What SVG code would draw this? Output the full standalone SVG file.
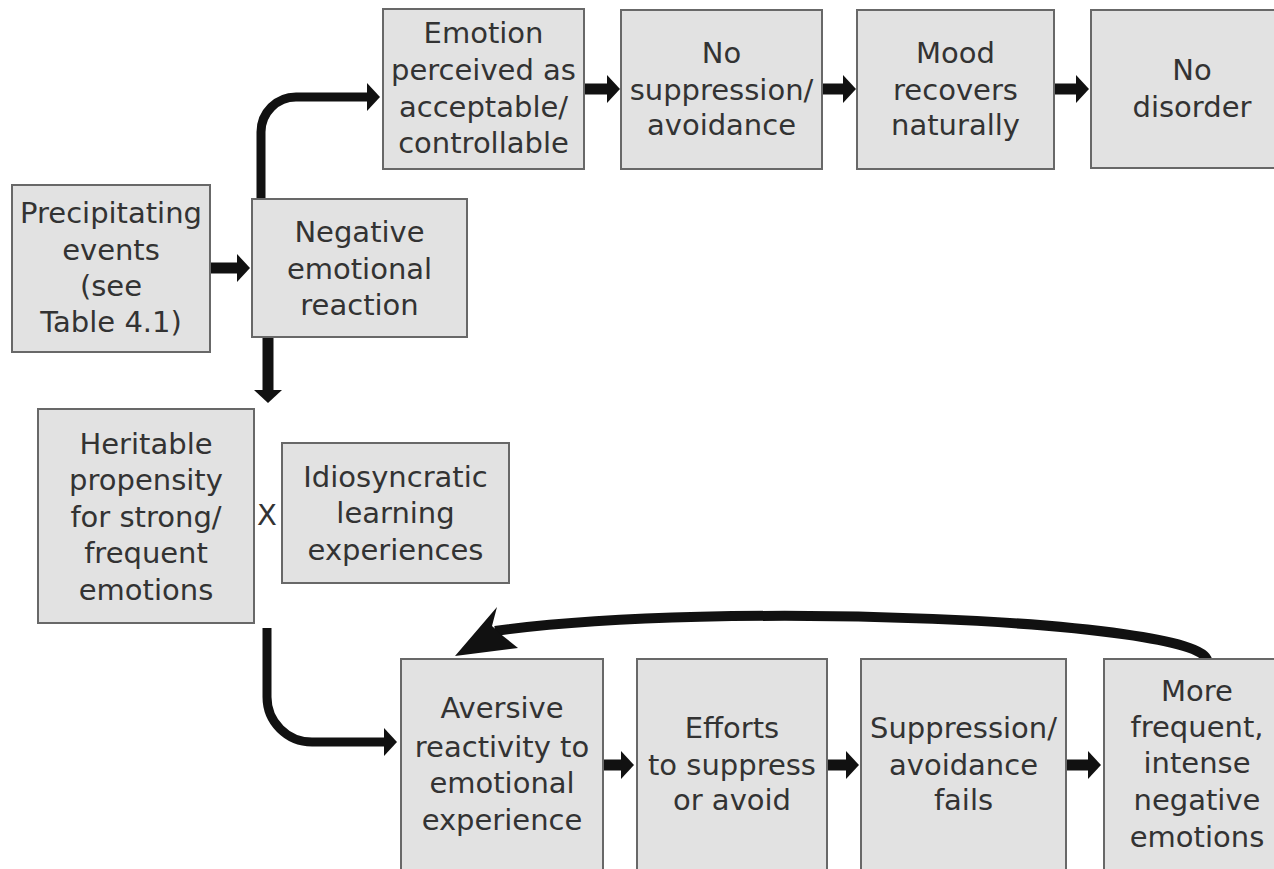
<svg xmlns="http://www.w3.org/2000/svg" width="1274" height="869" viewBox="0 0 1274 869">
<style>
.box{fill:#e2e2e2;stroke:#686868;stroke-width:2}
.t{font-family:"DejaVu Sans","Open Sans","Noto Sans",sans-serif;font-size:29px;fill:#333;text-anchor:middle}
.a{fill:none;stroke:#111;stroke-width:11}
.c{fill:none;stroke:#111;stroke-width:9}
</style>
<defs>
<marker id="ah" markerUnits="userSpaceOnUse" viewBox="0 -15 14 30" markerWidth="14" markerHeight="30" refX="0" refY="0" orient="auto">
<path d="M0,-14 L13,0 L0,14 z" fill="#111"/>
</marker>
</defs>
<rect width="1274" height="869" fill="#fff"/>

<g id="connectors">
<line class="a" x1="210" y1="268" x2="237" y2="268" marker-end="url(#ah)"/>
<line class="a" x1="585" y1="89" x2="607" y2="89" marker-end="url(#ah)"/>
<line class="a" x1="822" y1="89" x2="843" y2="89" marker-end="url(#ah)"/>
<line class="a" x1="1054" y1="89" x2="1076" y2="89" marker-end="url(#ah)"/>
<line class="a" x1="603" y1="765" x2="621" y2="765" marker-end="url(#ah)"/>
<line class="a" x1="827" y1="765" x2="846" y2="765" marker-end="url(#ah)"/>
<line class="a" x1="1066" y1="765" x2="1088" y2="765" marker-end="url(#ah)"/>
<line class="a" x1="268" y1="337" x2="268" y2="390" marker-end="url(#ah)"/>
<path class="c" d="M261 199 L261 132 A35 35 0 0 1 296 97 L367 97" marker-end="url(#ah)"/>
<path class="c" d="M267 628 L267 697 A45 45 0 0 0 312 742 L384 742" stroke-width="10" marker-end="url(#ah)"/>
<path d="M495 631 C720 600 1200 620 1207 660" fill="none" stroke="#111" stroke-width="10"/>
<path d="M455 656 L497 607 L492 626 L503 636 L518 648 Z" fill="#111"/>
</g>

<g id="precipitating">
<rect class="box" x="12" y="185" width="198" height="167"/>
<text class="t" x="111" y="223">Precipitating</text>
<text class="t" x="111" y="260">events</text>
<text class="t" x="111" y="296">(see</text>
<text class="t" x="111" y="332">Table 4.1)</text>
</g>

<g id="negative">
<rect class="box" x="252" y="199" width="215" height="138"/>
<text class="t" x="359.5" y="242">Negative</text>
<text class="t" x="359.5" y="279">emotional</text>
<text class="t" x="359.5" y="315">reaction</text>
</g>

<g id="acceptable">
<rect class="box" x="383" y="9" width="201" height="160"/>
<text class="t" x="483.5" y="43">Emotion</text>
<text class="t" x="483.5" y="80">perceived as</text>
<text class="t" x="483.5" y="117">acceptable/</text>
<text class="t" x="483.5" y="153">controllable</text>
</g>

<g id="nosuppression">
<rect class="box" x="621" y="10" width="201" height="159"/>
<text class="t" x="721.5" y="63">No</text>
<text class="t" x="721.5" y="100">suppression/</text>
<text class="t" x="721.5" y="135">avoidance</text>
</g>

<g id="mood">
<rect class="box" x="857" y="10" width="197" height="159"/>
<text class="t" x="955.5" y="63">Mood</text>
<text class="t" x="955.5" y="100">recovers</text>
<text class="t" x="955.5" y="135">naturally</text>
</g>

<g id="nodisorder">
<rect class="box" x="1091" y="10" width="202" height="158"/>
<text class="t" x="1192" y="80">No</text>
<text class="t" x="1192" y="117">disorder</text>
</g>

<g id="heritable">
<rect class="box" x="38" y="409" width="216" height="214"/>
<text class="t" x="146" y="454">Heritable</text>
<text class="t" x="146" y="490">propensity</text>
<text class="t" x="146" y="527">for strong/</text>
<text class="t" x="146" y="563">frequent</text>
<text class="t" x="146" y="600">emotions</text>
</g>

<g id="times">
<text class="t" x="267" y="525">X</text>
</g>

<g id="idiosyncratic">
<rect class="box" x="282" y="443" width="227" height="140"/>
<text class="t" x="395.5" y="487">Idiosyncratic</text>
<text class="t" x="395.5" y="523">learning</text>
<text class="t" x="395.5" y="560">experiences</text>
</g>

<g id="aversive">
<rect class="box" x="401" y="659" width="202" height="230"/>
<text class="t" x="502" y="718">Aversive</text>
<text class="t" x="502" y="757">reactivity to</text>
<text class="t" x="502" y="793">emotional</text>
<text class="t" x="502" y="830">experience</text>
</g>

<g id="efforts">
<rect class="box" x="637" y="659" width="190" height="230"/>
<text class="t" x="732" y="738">Efforts</text>
<text class="t" x="732" y="775">to suppress</text>
<text class="t" x="732" y="810">or avoid</text>
</g>

<g id="fails">
<rect class="box" x="861" y="659" width="205" height="230"/>
<text class="t" x="963.5" y="738">Suppression/</text>
<text class="t" x="963.5" y="775">avoidance</text>
<text class="t" x="963.5" y="810">fails</text>
</g>

<g id="morefrequent">
<rect class="box" x="1104" y="659" width="186" height="230"/>
<text class="t" x="1197" y="701">More</text>
<text class="t" x="1197" y="737">frequent,</text>
<text class="t" x="1197" y="773">intense</text>
<text class="t" x="1197" y="810">negative</text>
<text class="t" x="1197" y="847">emotions</text>
</g>
</svg>
